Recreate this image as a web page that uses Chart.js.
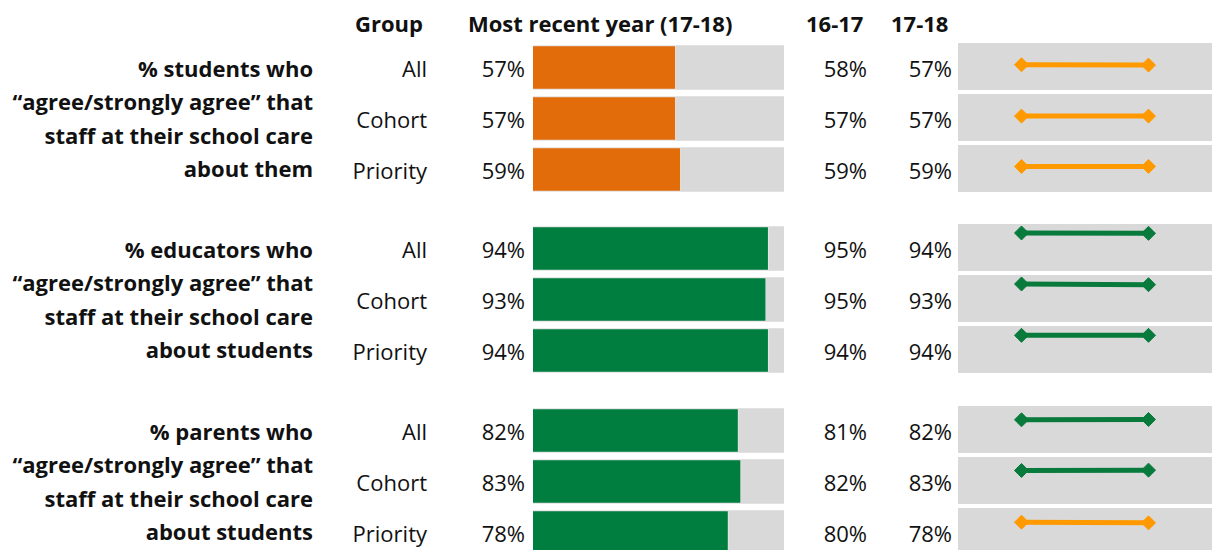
<!DOCTYPE html>
<html>
<head>
<meta charset="utf-8">
<script src="https://cdn.jsdelivr.net/npm/chart.js@4.4.1/dist/chart.umd.min.js"></script>
<style>
  body { margin: 0; background: #fff; }
  #board { position: relative; width: 1212px; height: 550px; overflow: hidden; font-family: "Open Sans", sans-serif; color: #111; }
  .txt { position: absolute; white-space: nowrap; font-size: 22px; line-height: 24px; }
  .bold { font-weight: bold; }
  .right { text-align: right; }
  canvas { position: absolute; }
</style>
</head>
<body>
<div id="board"></div>
<script>
const groupNames = ['All', 'Cohort', 'Priority'];
const questions = [
    ['% students who', '\u201cagree/strongly agree\u201d that', 'staff at their school care', 'about them'],
    ['% educators who', '\u201cagree/strongly agree\u201d that', 'staff at their school care', 'about students'],
    ['% parents who', '\u201cagree/strongly agree\u201d that', 'staff at their school care', 'about students']
];
const years = ['16-17', '17-18'];
const prevYear = [[58, 57, 59], [95, 95, 94], [81, 82, 80]];
const recentYear = [[57, 57, 59], [94, 93, 94], [82, 83, 78]];

// colours
const barColor = ['#E36C0A', '#007E40', '#007E40'];
const lineColor = [
    ['#FF9900', '#FF9900', '#FF9900'],
    ['#087A3C', '#087A3C', '#087A3C'],
    ['#087A3C', '#087A3C', '#FF9900']
];

// layout
const groupTop = [45, 226, 408];
const rowPitch = 51;
const barH = 44.5;

const board = document.getElementById('board');

function addText(str, x, y, opts) {
    const d = document.createElement('div');
    d.className = 'txt' + (opts.bold ? ' bold' : '') + (opts.right ? ' right' : '');
    d.textContent = str;
    if (opts.right) {
        d.style.right = (1212 - x) + 'px';
    } else {
        d.style.left = x + 'px';
    }
    d.style.top = (y - 13.5) + 'px';
    board.appendChild(d);
}

// header
addText('Group', 355, 24, { bold: true });
addText('Most recent year (17-18)', 468, 24, { bold: true });
addText(years[0], 806, 24, { bold: true });
addText(years[1], 891, 24, { bold: true });

// draws the grey 0-100 track behind each bar
const trackPlugin = {
    id: 'track',
    beforeDatasetsDraw(chart) {
        const ctx = chart.ctx;
        const xs = chart.scales.x;
        const meta = chart.getDatasetMeta(0);
        ctx.save();
        ctx.fillStyle = '#D9D9D9';
        meta.data.forEach(bar => {
            const x0 = xs.getPixelForValue(0);
            const x1 = xs.getPixelForValue(100);
            ctx.fillRect(x0, bar.y - bar.height / 2, x1 - x0, bar.height);
        });
        ctx.restore();
    }
};

groupTop.forEach((top, g) => {
    // question label, 4 lines
    questions[g].forEach((line, k) => {
        addText(line, 313, top + 24 + k * 33.5, { bold: true, right: true });
    });

    for (let i = 0; i < 3; i++) {
        const cy = top + i * rowPitch + barH / 2 + 2;
        addText(groupNames[i], 427, cy, { right: true });
        addText(recentYear[g][i] + '%', 525, cy, { right: true });
        addText(prevYear[g][i] + '%', 867, cy, { right: true });
        addText(recentYear[g][i] + '%', 952, cy, { right: true });
    }

    // bar chart for the group
    const bc = document.createElement('canvas');
    bc.width = 251;
    bc.height = 153;
    bc.style.left = '533px';
    bc.style.top = (top - (rowPitch - barH) / 2) + 'px';
    board.appendChild(bc);
    new Chart(bc.getContext('2d'), {
        type: 'bar',
        data: {
            labels: groupNames,
            datasets: [{
                data: recentYear[g],
                backgroundColor: barColor[g],
                borderColor: 'rgba(255,255,255,0.35)',
                borderWidth: 1,
                categoryPercentage: 1,
                barPercentage: barH / rowPitch
            }]
        },
        options: {
            indexAxis: 'y',
            responsive: false,
            animation: false,
            layout: { padding: 0, autoPadding: false },
            plugins: { legend: { display: false }, tooltip: { enabled: false } },
            scales: {
                x: { display: false, min: 0, max: 100 },
                y: { display: false }
            }
        },
        plugins: [trackPlugin]
    });

    // sparklines, one per row
    for (let i = 0; i < 3; i++) {
        const sc = document.createElement('canvas');
        sc.width = 254;
        sc.height = 47;
        sc.style.left = '958px';
        sc.style.top = (top + i * rowPitch - 2) + 'px';
        sc.style.background = '#D9D9D9';
        board.appendChild(sc);
        const col = lineColor[g][i];
        new Chart(sc.getContext('2d'), {
            type: 'line',
            data: {
                labels: years,
                datasets: [{
                    data: [prevYear[g][i], recentYear[g][i]],
                    borderColor: col,
                    borderWidth: 5,
                    pointStyle: 'rectRot',
                    pointRadius: 7,
                    pointBackgroundColor: col,
                    pointBorderColor: col,
                    pointBorderWidth: 1
                }]
            },
            options: {
                responsive: false,
                animation: false,
                layout: { padding: 0, autoPadding: false },
                plugins: { legend: { display: false }, tooltip: { enabled: false } },
                scales: {
                    x: { display: false, offset: true },
                    y: { display: false, min: -15, max: 121 }
                }
            }
        });
    }
});
</script>
</body>
</html>
